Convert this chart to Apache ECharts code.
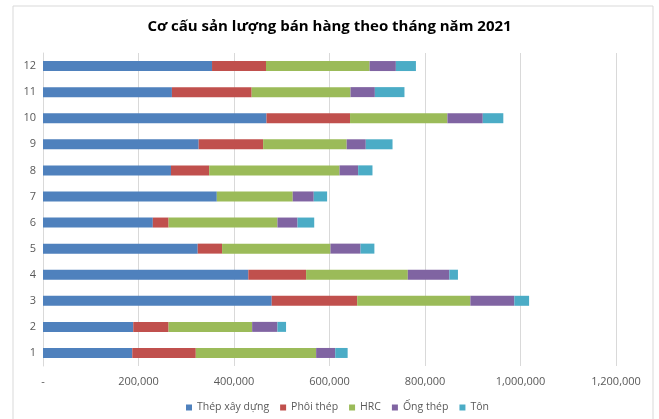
<!DOCTYPE html>
<html>
<head>
<meta charset="utf-8">
<script src="https://cdn.jsdelivr.net/npm/echarts@6/dist/echarts.min.js"></script>
<style>
  html, body { margin: 0; padding: 0; background: #fff; }
  #chart { width: 659px; height: 419px; }
</style>
</head>
<body>
<div id="chart"></div>
<script>
// tháng 1..12
var months = ['1', '2', '3', '4', '5', '6', '7', '8', '9', '10', '11', '12'];
var seriesNames = ['Thép xây dựng', 'Phôi thép', 'HRC', 'Ống thép', 'Tôn'];
var thepXayDung = [187000, 189000, 479000, 430000, 324000, 230000, 364000, 268000, 326000, 468000, 270000, 354000];
var phoiThep    = [133000,  74000, 179000, 121000,  51000,  33000,      0,  80000, 135000, 175000, 167000, 113000];
var hrc         = [252000, 175000, 237000, 213000, 227000, 228000, 159000, 273000, 175000, 204000, 207000, 217000];
var ongThep     = [ 40000,  53000,  92000,  87000,  63000,  42000,  44000,  39000,  40000,  74000,  51000,  55000];
var ton         = [ 26000,  18000,  31000,  18000,  29000,  35000,  28000,  30000,  56000,  43000,  62000,  42000];
var colors = ['#4F81BD', '#C0504D', '#9BBB59', '#8064A2', '#4BACC6'];

var myChart = echarts.init(document.getElementById('chart'));
var allData = [thepXayDung, phoiThep, hrc, ongThep, ton];

var series = [];
for (var i = 0; i < seriesNames.length; i++) {
    series.push({
        name: seriesNames[i],
        type: 'bar',
        stack: 'tong',
        barWidth: 10,
        data: allData[i],
        itemStyle: { color: colors[i] }
    });
}

var option = {
    animation: false,
    textStyle: { fontFamily: 'Open Sans' },
    graphic: [{
        type: 'rect',
        shape: { x: 13, y: 6, width: 640, height: 420 },
        style: { fill: 'none', stroke: '#d9d9d9', lineWidth: 1 },
        silent: true
    }],
    title: {
        text: 'Cơ cấu sản lượng bán hàng theo tháng năm 2021',
        left: 'center',
        top: 14,
        textStyle: { fontSize: 15, fontWeight: 'bold', color: '#000', fontFamily: 'Open Sans' }
    },
    color: colors,
    legend: {
        bottom: 1,
        left: 181,
        itemWidth: 6,
        itemHeight: 6,
        itemGap: 11,
        icon: 'rect',
        textStyle: { fontSize: 10.5, color: '#595959' },
        data: seriesNames
    },
    grid: { left: 43, right: 43, top: 53, bottom: 53, containLabel: false },
    xAxis: {
        type: 'value',
        min: 0,
        max: 1200000,
        interval: 200000,
        axisLine: { show: false },
        axisTick: { show: false },
        splitLine: { lineStyle: { color: '#d9d9d9' } },
        axisLabel: {
            color: '#595959',
            fontSize: 11,
            margin: 10,
            formatter: function (v) {
                if (v === 0) return '-';
                return v.toLocaleString('en-US');
            }
        }
    },
    yAxis: {
        type: 'category',
        data: months,
        axisLine: { show: true, lineStyle: { color: '#d9d9d9' } },
        axisTick: { show: false },
        axisLabel: { color: '#595959', fontSize: 11, margin: 7 }
    },
    series: series
};

myChart.setOption(option);
window.addEventListener('resize', function () {
    myChart.resize();
});
</script>
</body>
</html>
